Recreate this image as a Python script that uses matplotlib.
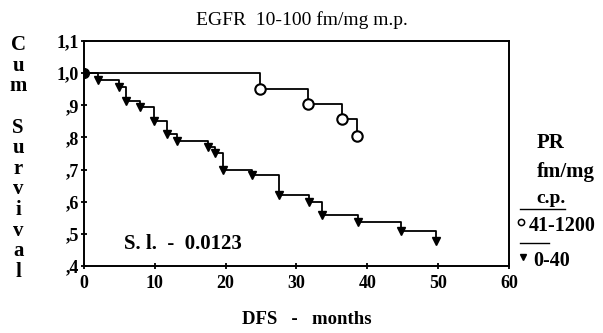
import matplotlib.pyplot as plt
import numpy as np

# curva PR 0-40 (triângulos) e PR 41-1200 (círculos)
meses_baixo = [0, 2.0, 4.9, 5.9, 7.9, 9.9, 11.8, 13.1, 17.5, 18.5, 19.7, 23.7, 27.5, 31.8, 33.6, 38.7, 44.8, 49.7]
surv_baixo = [1.0, 0.978, 0.956, 0.912, 0.894, 0.85, 0.81, 0.79, 0.77, 0.753, 0.70, 0.684, 0.62, 0.60, 0.56, 0.537, 0.51, 0.478]

meses_alto = [0, 24.8, 31.7, 36.5, 38.6]
surv_alto = [1.0, 0.95, 0.903, 0.856, 0.806]

xticks = [0, 10, 20, 30, 40, 50, 60]
yticks = [0.4, 0.5, 0.6, 0.7, 0.8, 0.9, 1.0, 1.1]
ylabels = [',4', ',5', ',6', ',7', ',8', ',9', '1,0', '1,1']

plt.rcParams['font.family'] = ['Liberation Serif', 'DejaVu Serif']
plt.rcParams['font.weight'] = 'bold'

fig = plt.figure(figsize=(6.03, 3.33), dpi=100)
ax = fig.add_axes([0.139, 0.201, 0.705, 0.676])

ax.step(meses_baixo, surv_baixo, where='post', color='k', lw=1.3)
ax.plot(meses_baixo[1:], surv_baixo[1:], 'kv', ms=6)
ax.step(meses_alto, surv_alto, where='post', color='k', lw=1.3)
ax.plot(meses_alto[1:], surv_alto[1:], 'o', mfc='white', mec='k', mew=1.5, ms=7.5)
ax.plot([0], [1.0], 'ko', ms=7)

ax.set_xlim(0, 60)
ax.set_ylim(0.4, 1.1)
ax.set_xticks(xticks)
ax.set_yticks(yticks)
ax.set_yticklabels(ylabels)
ax.tick_params(labelsize=13, direction='inout', length=5, width=1.3)
ax.tick_params(axis='x', pad=4)
ax.tick_params(axis='y', pad=1)
for s in ax.spines.values():
    s.set_linewidth(1.4)

ax.text(14.0, 0.47, 'S. l.  -  0.0123', ha='center', va='center', fontsize=15)
fig.text(0.50, 0.94, 'EGFR  10-100 fm/mg m.p.', ha='center', va='center',
         fontsize=14, fontweight='normal')

# eixo y com letras empilhadas
letras = 'Cum Survival'
ys = np.linspace(0.865, 0.183, len(letras))
for ch, y in zip(letras, ys):
    fig.text(0.03, y, ch, ha='center', va='center', fontsize=15)

fig.text(0.508, 0.04, 'DFS   -   months', ha='center', va='center', fontsize=13.5)

# legenda manual
fig.text(0.89, 0.57, 'PR', fontsize=15, va='center')
fig.text(0.89, 0.483, 'fm/mg', fontsize=15, va='center')
fig.text(0.89, 0.405, 'c.p.', fontsize=14, va='center')
fig.add_artist(plt.Line2D([0.862, 0.937], [0.372, 0.372], color='k', lw=1))
fig.add_artist(plt.Line2D([0.864], [0.333], marker='o', mfc='white', mec='k', mew=1.1, ms=4.5))
fig.text(0.877, 0.322, '41-1200', fontsize=14.5, va='center')
fig.add_artist(plt.Line2D([0.862, 0.91], [0.27, 0.27], color='k', lw=1))
fig.add_artist(plt.Line2D([0.868], [0.228], marker='v', color='k', ms=4.5))
fig.text(0.885, 0.217, '0-40', fontsize=14.5, va='center')

fig.savefig('out.png', dpi=100)
